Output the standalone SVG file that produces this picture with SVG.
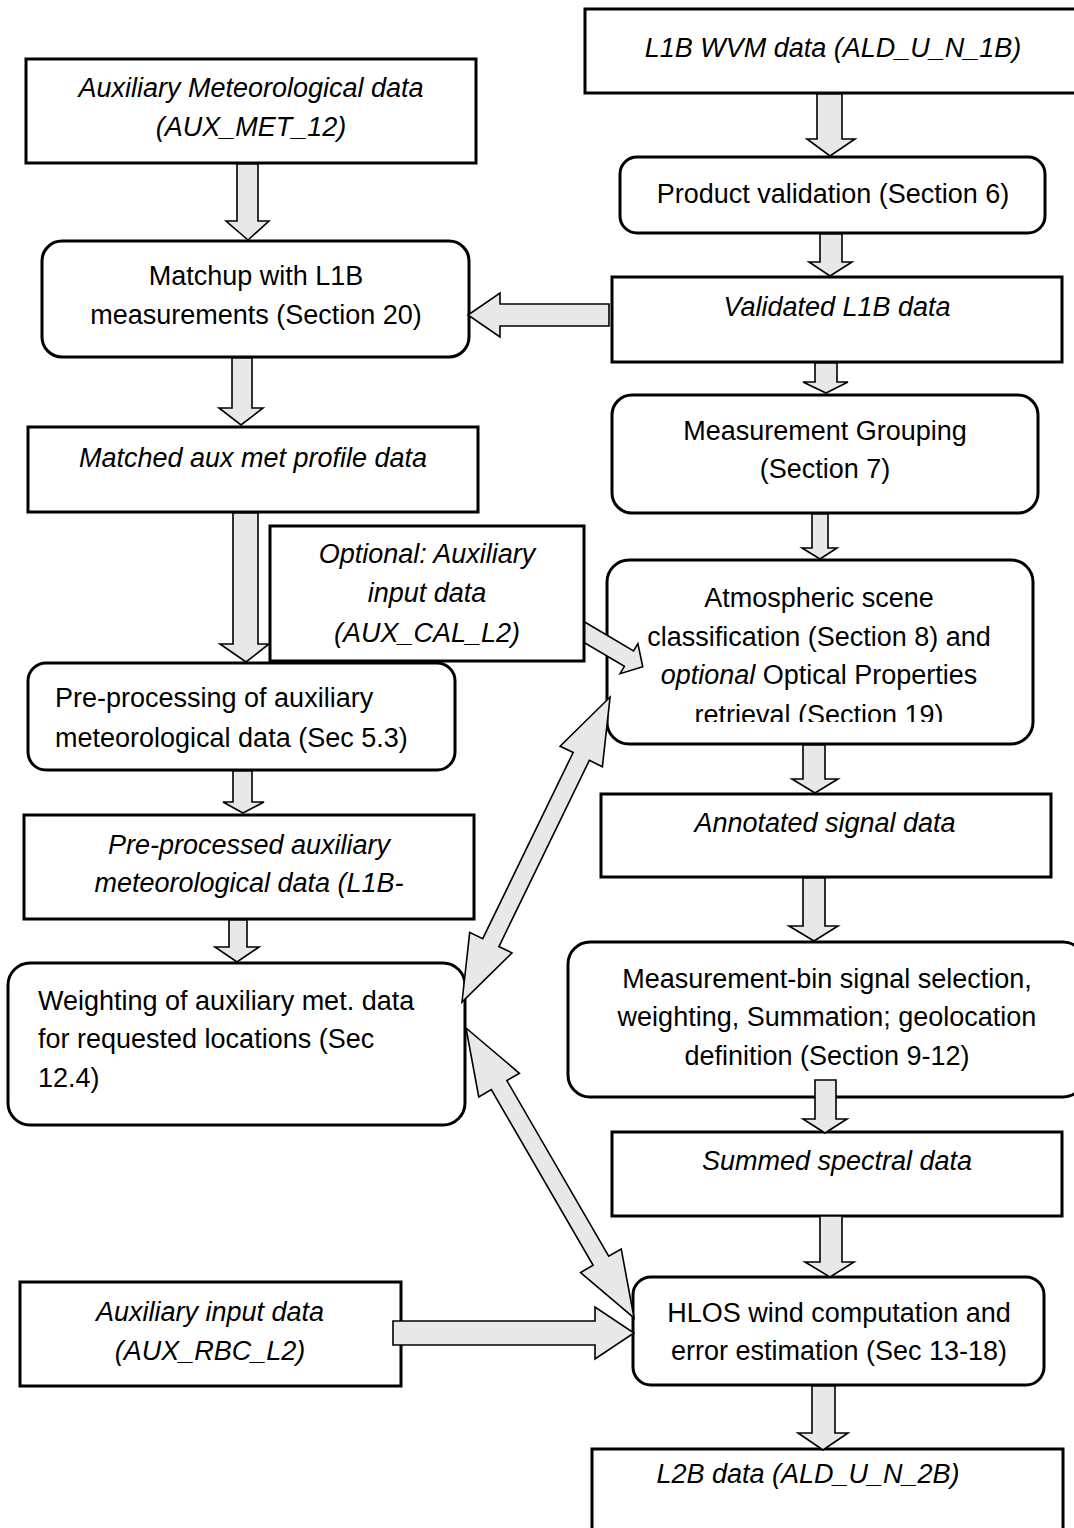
<svg xmlns="http://www.w3.org/2000/svg" width="1074" height="1528" viewBox="0 0 1074 1528">
<style>
.box{fill:#fff;stroke:#000;stroke-width:3}
.arr{fill:#e8e8e8;stroke:#000;stroke-width:1.6;stroke-linejoin:miter}
text{font-family:"Liberation Sans",Arial,sans-serif;font-size:27px;fill:#000}
.c{text-anchor:middle}
.i{font-style:italic}
</style>
<defs>
<clipPath id="atmClip"><rect x="600" y="550" width="450" height="172"/></clipPath>
</defs>
<rect width="1074" height="1528" fill="#fff"/>

<g id="n-l1b-wvm">
<rect class="box" x="585" y="9" width="505" height="84"/>
<text class="c i" x="833" y="57">L1B WVM data (ALD_U_N_1B)</text>
</g>
<g id="n-aux-met">
<rect class="box" x="26" y="59" width="450" height="104"/>
<text class="c i" x="251" y="97">Auxiliary Meteorological data</text>
<text class="c i" x="251" y="136">(AUX_MET_12)</text>
</g>
<g id="n-product-validation">
<rect class="box" x="620" y="157" width="425" height="76" rx="17"/>
<text class="c" x="833" y="203">Product validation (Section 6)</text>
</g>
<g id="n-matchup">
<rect class="box" x="42" y="241" width="427" height="116" rx="20"/>
<text class="c" x="256" y="285">Matchup with L1B</text>
<text class="c" x="256" y="324">measurements (Section 20)</text>
</g>
<g id="n-validated">
<rect class="box" x="612" y="277" width="450" height="85"/>
<text class="c i" x="837" y="316">Validated L1B data</text>
</g>
<g id="n-matched">
<rect class="box" x="28" y="427" width="450" height="85"/>
<text class="c i" x="253" y="467">Matched aux met profile data</text>
</g>
<g id="n-meas-grouping">
<rect class="box" x="612" y="395" width="426" height="118" rx="20"/>
<text class="c" x="825" y="440">Measurement Grouping</text>
<text class="c" x="825" y="478">(Section 7)</text>
</g>
<g id="n-atmos">
<rect class="box" x="607" y="560" width="426" height="184" rx="22"/>
<text class="c" x="819" y="607">Atmospheric scene</text>
<text class="c" x="819" y="646">classification (Section 8) and</text>
<text class="c" x="819" y="684"><tspan class="i">optional</tspan> Optical Properties</text>
<text class="c" x="819" y="724" clip-path="url(#atmClip)">retrieval (Section 19)</text>
</g>
<g id="n-preproc">
<rect class="box" x="28" y="663" width="427" height="107" rx="18"/>
<text x="55" y="707">Pre-processing of auxiliary</text>
<text x="55" y="747">meteorological data (Sec 5.3)</text>
</g>
<g id="n-annotated">
<rect class="box" x="601" y="794" width="450" height="83"/>
<text class="c i" x="825" y="832">Annotated signal data</text>
</g>
<g id="n-preprocessed">
<rect class="box" x="24" y="815" width="450" height="104"/>
<text class="c i" x="249" y="854">Pre-processed auxiliary</text>
<text class="c i" x="249" y="892">meteorological data (L1B-</text>
</g>
<g id="n-meas-bin">
<rect class="box" x="568" y="942" width="517" height="155" rx="22"/>
<text class="c" x="827" y="988">Measurement-bin signal selection,</text>
<text class="c" x="827" y="1026">weighting, Summation; geolocation</text>
<text class="c" x="827" y="1065">definition (Section 9-12)</text>
</g>
<g id="n-weighting">
<rect class="box" x="8" y="963" width="457" height="162" rx="22"/>
<text x="38" y="1010">Weighting of auxiliary met. data</text>
<text x="38" y="1048">for requested locations (Sec</text>
<text x="38" y="1087">12.4)</text>
</g>
<g id="n-summed">
<rect class="box" x="612" y="1132" width="450" height="84"/>
<text class="c i" x="837" y="1170">Summed spectral data</text>
</g>
<g id="n-hlos">
<rect class="box" x="633" y="1277" width="411" height="108" rx="18"/>
<text class="c" x="839" y="1322">HLOS wind computation and</text>
<text class="c" x="839" y="1360">error estimation (Sec 13-18)</text>
</g>
<g id="n-aux-rbc">
<rect class="box" x="20" y="1282" width="381" height="104"/>
<text class="c i" x="210" y="1321">Auxiliary input data</text>
<text class="c i" x="210" y="1360">(AUX_RBC_L2)</text>
</g>
<g id="n-l2b">
<rect class="box" x="592" y="1449" width="471" height="100"/>
<text class="c i" x="808" y="1483">L2B data (ALD_U_N_2B)</text>
</g>

<g id="connectors">
<polygon class="arr" points="237,164 258,164 258,221 269,221 248,240 226,221 237,221"/>
<polygon class="arr" points="817,94 842,94 842,139 855,139 830,156 807,139 817,139"/>
<polygon class="arr" points="820,234 842,234 842,262 852,262 830,276 809,262 820,262"/>
<polygon class="arr" points="609,304 609,326 500,326 500,337 468,315 500,293 500,304"/>
<polygon class="arr" points="232,358 252,358 252,408 263,408 241,425 219,408 232,408"/>
<polygon class="arr" points="815,363 837,363 837,382 848,382 826,393 803,382 815,382"/>
<polygon class="arr" points="812,514 828,514 828,548 837,548 820,559 802,548 812,548"/>
<polygon class="arr" points="233,513 258,513 258,644 269,644 246,662 220,644 233,644"/>
<polygon class="arr" points="803,745 825,745 825,779 838,779 815,793 792,779 803,779"/>
<polygon class="arr" points="803,878 825,878 825,926 838,926 814,941 789,926 803,926"/>
<polygon class="arr" points="815,1080 836,1080 836,1119 847,1119 825,1133 803,1119 815,1119"/>
<polygon class="arr" points="820,1216 842,1216 842,1262 854,1262 830,1277 805,1262 820,1262"/>
<polygon class="arr" points="233,771 252,771 252,802 264,802 243,813 223,802 233,802"/>
<polygon class="arr" points="229,920 247,920 247,947 259,947 237,962 215,947 229,947"/>
<polygon class="arr" points="812,1386 835,1386 835,1433 848,1433 823,1450 798,1433 812,1433"/>
<polygon class="arr" points="393,1321 595,1321 595,1307 634,1333 595,1359 595,1345 393,1345"/>
<polygon class="arr" transform="translate(567,622) rotate(30.6)" points="0,-9 72,-9 72,-17.5 88,0 72,17.5 72,9 0,9"/>
<polygon class="arr" transform="translate(462,1002) rotate(-64.1)" points="0,0 66,-23.5 66,-9 273,-9 273,-23.5 339,0 273,23.5 273,9 66,9 66,23.5"/>
<polygon class="arr" transform="translate(466,1028) rotate(59.9)" points="0,0 66,-23.5 66,-9 269,-9 269,-23.5 335,0 269,23.5 269,9 66,9 66,23.5"/>
</g>

<g id="n-optional-aux-cal">
<rect class="box" x="270" y="526" width="314" height="135"/>
<text class="c i" x="427" y="563">Optional: Auxiliary</text>
<text class="c i" x="427" y="602">input data</text>
<text class="c i" x="427" y="642">(AUX_CAL_L2)</text>
</g>
</svg>
